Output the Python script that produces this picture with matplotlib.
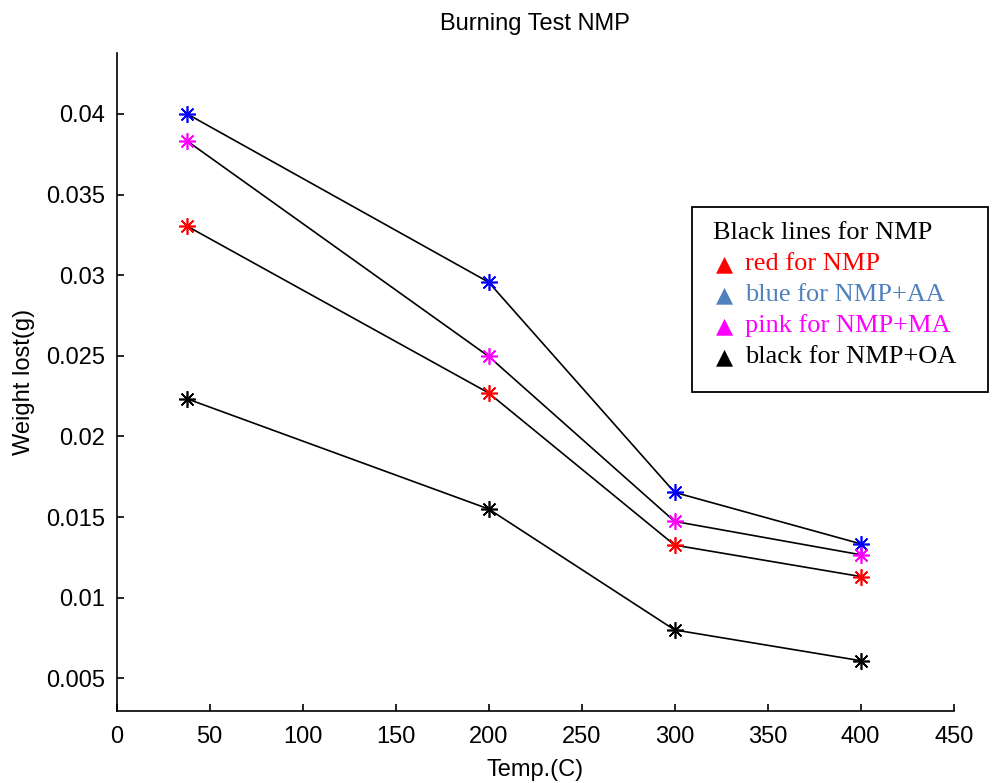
import matplotlib
matplotlib.use("Agg")
import matplotlib.pyplot as plt
from matplotlib.patches import Rectangle

# Burning test data: weight lost (g) vs temperature (C)
temps = [38, 200, 300, 400]
nmp = [0.03304, 0.02270, 0.01326, 0.01131]
nmp_aa = [0.04000, 0.02957, 0.01653, 0.01334]
nmp_ma = [0.03832, 0.02497, 0.01473, 0.01266]
nmp_oa = [0.02233, 0.01550, 0.00800, 0.00609]

series = [
    (nmp_aa, "#0000ff"),
    (nmp_ma, "#ff00ff"),
    (nmp, "#ff0000"),
    (nmp_oa, "#000000"),
]

xticks = [0, 50, 100, 150, 200, 250, 300, 350, 400, 450]
yticks = [0.005, 0.01, 0.015, 0.02, 0.025, 0.03, 0.035, 0.04]

legend_lines = [
    ("Black lines for NMP", "#000000", False),
    ("red for NMP", "#ff0000", True),
    ("blue for NMP+AA", "#4f81bd", True),
    ("pink for NMP+MA", "#ff00ff", True),
    ("black for NMP+OA", "#000000", True),
]

plt.rcParams["font.family"] = ["Liberation Sans", "DejaVu Sans"]

W, H = 998, 783
fig = plt.figure(figsize=(W / 100, H / 100), dpi=100)
ax = fig.add_axes([116.5 / W, 1 - 711 / H, (953.7 - 116.5) / W, (711 - 52.7) / H])

asterisk = (8, 2, 0)
for vals, col in series:
    ax.plot(temps, vals, color="black", lw=1.2, zorder=2)
    ax.plot(temps, vals, linestyle="none", marker=asterisk, markersize=12,
            markeredgewidth=1.2, color=col, zorder=3)

ax.set_xlim(0, 450)
ax.set_ylim(0.00297, 0.0438)
ax.set_xticks(xticks)
ax.set_xticklabels([f"{t:g}" for t in xticks])
ax.set_yticks(yticks)
ax.set_yticklabels([f"{t:g}" for t in yticks])
for s in ("top", "right"):
    ax.spines[s].set_visible(False)
for s in ("left", "bottom"):
    ax.spines[s].set_linewidth(1.2)
ax.tick_params(direction="in", length=5, width=1.2, labelsize=17)
ax.tick_params(axis="x", pad=11)
ax.tick_params(axis="y", pad=8)

ax.set_title("Burning Test NMP", fontsize=17, pad=16)
ax.set_xlabel("Temp.(C)", fontsize=17, labelpad=8)
ax.set_ylabel("Weight lost(g)", fontsize=17, labelpad=8)

# Annotation box
fig.patches.append(Rectangle((692 / W, 1 - 392 / H), (988 - 692) / W, (392 - 207) / H,
                             transform=fig.transFigure, fill=True, facecolor="white",
                             edgecolor="black", lw=1.3, zorder=5))
y0 = 233
for i, (txt, col, tri) in enumerate(legend_lines):
    yy = 1 - (y0 + i * 31) / H
    if tri:
        fig.text(716 / W, yy, "\u25B2", color=col, fontsize=16, va="center",
                 ha="left", family="DejaVu Sans", zorder=6)
        fig.text(745 / W, yy, txt, color=col, fontsize=19, va="center",
                 ha="left", family="Liberation Serif", zorder=6)
    else:
        fig.text(713 / W, yy, txt, color=col, fontsize=19, va="center",
                 ha="left", family="Liberation Serif", zorder=6)

fig.savefig("out.png", dpi=100)
